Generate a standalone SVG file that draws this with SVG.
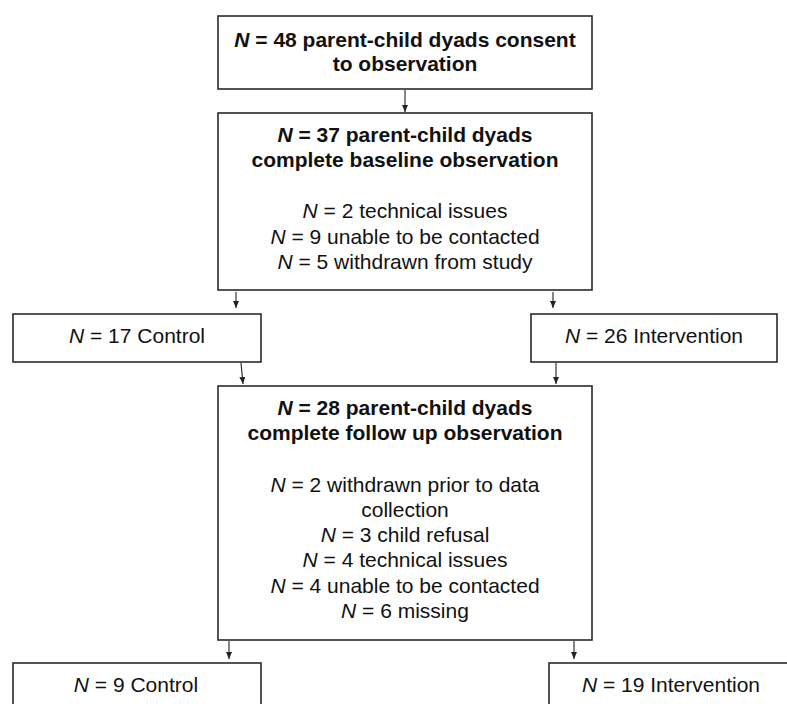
<svg xmlns="http://www.w3.org/2000/svg" width="787" height="704" viewBox="0 0 787 704">
<style>
.box{fill:#fff;stroke:#2a2a2a;stroke-width:1.6}
.t{font-family:"Liberation Sans",Arial,sans-serif;font-size:21px;fill:#111;text-anchor:middle}
.b{font-weight:bold}
.c{stroke:#222;stroke-width:1.1;fill:none;marker-end:url(#ah)}
</style>
<defs>
<marker id="ah" viewBox="0 0 7 6" refX="7" refY="3" markerWidth="7" markerHeight="6" markerUnits="userSpaceOnUse" orient="auto">
<path d="M0,0 L7,3 L0,6 Z" fill="#222"/>
</marker>
</defs>
<rect width="787" height="704" fill="#fff"/>
<g id="connectors">
<line class="c" x1="405" y1="90" x2="405" y2="112"/>
<line class="c" x1="236" y1="292" x2="236" y2="308"/>
<line class="c" x1="553" y1="292" x2="553" y2="308"/>
<line class="c" x1="241" y1="363" x2="243" y2="384"/>
<line class="c" x1="556" y1="363" x2="556" y2="384"/>
<line class="c" x1="229" y1="641" x2="229" y2="659"/>
<line class="c" x1="574" y1="641" x2="574" y2="659"/>
</g>
<g id="n1">
<rect class="box" x="218" y="16" width="374" height="73"/>
<text class="t b" x="405" y="47"><tspan font-style="italic">N</tspan> = 48 parent-child dyads consent</text>
<text class="t b" x="405" y="71">to observation</text>
</g>
<g id="n2">
<rect class="box" x="218" y="113" width="374" height="177"/>
<text class="t b" x="405" y="142"><tspan font-style="italic">N</tspan> = 37 parent-child dyads</text>
<text class="t b" x="405" y="167">complete baseline observation</text>
<text class="t" x="405" y="218"><tspan font-style="italic">N</tspan> = 2 technical issues</text>
<text class="t" x="405" y="244"><tspan font-style="italic">N</tspan> = 9 unable to be contacted</text>
<text class="t" x="405" y="269"><tspan font-style="italic">N</tspan> = 5 withdrawn from study</text>
</g>
<g id="n3">
<rect class="box" x="13" y="314" width="248" height="48"/>
<text class="t" x="137" y="343"><tspan font-style="italic">N</tspan> = 17 Control</text>
</g>
<g id="n4">
<rect class="box" x="531" y="314" width="246" height="48"/>
<text class="t" x="654" y="343"><tspan font-style="italic">N</tspan> = 26 Intervention</text>
</g>
<g id="n5">
<rect class="box" x="218" y="386" width="374" height="254"/>
<text class="t b" x="405" y="415"><tspan font-style="italic">N</tspan> = 28 parent-child dyads</text>
<text class="t b" x="405" y="440">complete follow up observation</text>
<text class="t" x="405" y="492"><tspan font-style="italic">N</tspan> = 2 withdrawn prior to data</text>
<text class="t" x="405" y="517">collection</text>
<text class="t" x="405" y="542"><tspan font-style="italic">N</tspan> = 3 child refusal</text>
<text class="t" x="405" y="567"><tspan font-style="italic">N</tspan> = 4 technical issues</text>
<text class="t" x="405" y="593"><tspan font-style="italic">N</tspan> = 4 unable to be contacted</text>
<text class="t" x="405" y="618"><tspan font-style="italic">N</tspan> = 6 missing</text>
</g>
<g id="n6">
<rect class="box" x="13" y="663" width="248" height="60"/>
<text class="t" x="136" y="692"><tspan font-style="italic">N</tspan> = 9 Control</text>
</g>
<g id="n7">
<rect class="box" x="549" y="663" width="260" height="60"/>
<text class="t" x="671" y="692"><tspan font-style="italic">N</tspan> = 19 Intervention</text>
</g>
</svg>
